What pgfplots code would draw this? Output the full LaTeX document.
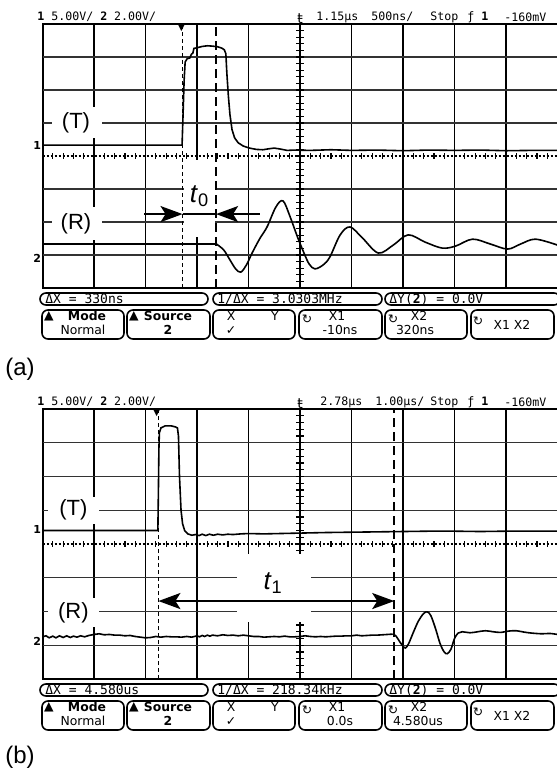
\documentclass[border=0pt]{standalone}
\usepackage{pgfplots}
\pgfplotsset{compat=1.18}
\usepackage{fontspec}
\setmainfont{Liberation Sans}
\newfontfamily\scopefont{DejaVu Sans Mono}
\newfontfamily\symfont{DejaVu Sans}
\usetikzlibrary{arrows.meta}

\pgfplotsset{
  screen/.style={
    scale only axis, width=257.5pt,
    xmin=-5, xmax=5, ymin=-4, ymax=4,
    xtick=\empty, ytick=\empty,
    axis line style={line width=1pt},
    clip=false,
  },
  trace/.style={black, line width=0.8pt, mark=none},
}
\newcommand{\screengrid}{%
  \pgfplotsinvokeforeach{-4,...,4}{\draw[line width=0.85pt] (axis cs:##1,-4) -- (axis cs:##1,4);}%
  \pgfplotsinvokeforeach{-3,-2,-1,1,2,3}{\draw[line width=0.6pt,black!80] (axis cs:-5,##1) -- (axis cs:5,##1);}%
  \draw[line width=0.6pt, dash pattern=on 1pt off 1pt] (axis cs:-5,0) -- (axis cs:5,0);%
  \pgfplotsinvokeforeach{-4.8,-4.6,...,4.8}{\draw[line width=0.6pt] (axis cs:##1,-0.08) -- (axis cs:##1,0.08);}%
  \pgfplotsinvokeforeach{-3.8,-3.6,...,3.8}{\draw[line width=0.6pt] (axis cs:-0.07,##1) -- (axis cs:0.07,##1);}%
}
\tikzset{
  dimarrow/.style={line width=1.2pt, -{Stealth[length=11pt,width=8pt,inset=2.5pt]}},
  key/.style={line width=0.8pt, rounded corners=3pt},
  keytxt/.style={font=\scopefont\fontsize{6.5}{7}\selectfont, inner sep=0pt},
  softtxt/.style={font=\symfont\fontsize{6.2}{7}\selectfont, inner sep=0pt},
  hdr/.style={font=\scopefont\fontsize{5.8}{6}\selectfont, inner sep=0pt, anchor=west},
  lab/.style={font=\fontsize{11}{12}\selectfont, fill=white, inner sep=1pt},
  cur1/.style={black, line width=0.8pt, dash pattern=on 2pt off 1.5pt, mark=none},
  cur2/.style={black, line width=1pt, dash pattern=on 4.5pt off 2.5pt, mark=none},
}

\begin{document}
\begin{tikzpicture}[x=0.5pt,y=-0.5pt]
\useasboundingbox (0,0) rectangle (557,773);

% ---------------- panel (a) ----------------
\begin{axis}[screen, height=132pt, at={(21.25pt,-12pt)}, anchor=north west]
\screengrid
\fill[white] (axis cs:-4.82,0.55) rectangle (axis cs:-3.85,1.5);
\fill[white] (axis cs:-4.82,-1.55) rectangle (axis cs:-3.85,-2.55);
\fill[white] (axis cs:-2.26,-0.12) rectangle (axis cs:-1.65,-2.45);
% cursors
\addplot[cur1] coordinates {(-2.28,-4) (-2.28,4)};
\addplot[cur2] coordinates {(-1.63,-4) (-1.63,4)};
% channel 1 (T)
\addplot[trace] coordinates {
(-5,0.33) (-2.29,0.33) (-2.27,1.3) (-2.25,2.3) (-2.23,2.85) (-2.19,2.95) (-2.14,2.97)
(-2.11,3.08) (-2.08,3.12) (-2.06,3.26) (-2.0,3.28) (-1.9,3.32) (-1.8,3.34) (-1.7,3.33)
(-1.6,3.31) (-1.52,3.27) (-1.47,3.22) (-1.44,3.1) (-1.42,2.5) (-1.39,1.8) (-1.36,1.25)
(-1.32,0.8) (-1.27,0.55) (-1.20,0.40) (-1.10,0.30) (-0.98,0.24) (-0.85,0.20) (-0.72,0.19)
(-0.60,0.22) (-0.50,0.24) (-0.38,0.21) (-0.25,0.17) (-0.10,0.18) (0.2,0.17) (0.6,0.19)
(1.0,0.17) (1.5,0.18) (2.0,0.16) (2.5,0.18) (3.0,0.17) (3.5,0.18) (4.0,0.16) (4.5,0.17) (5,0.17)};
% channel 2 (R)
\addplot[trace] coordinates {(-5,-2.67) (-1.62,-2.67)};
\addplot[trace, smooth, tension=0.55] coordinates {
(-1.62,-2.67) (-1.48,-2.85) (-1.36,-3.15) (-1.25,-3.42) (-1.15,-3.52) (-1.04,-3.30)
(-0.93,-2.94) (-0.78,-2.50) (-0.64,-2.15) (-0.47,-1.55) (-0.33,-1.36) (-0.19,-1.85)
(-0.05,-2.45) (0.08,-2.95) (0.18,-3.28) (0.29,-3.42) (0.45,-3.30) (0.58,-3.06)
(0.78,-2.39) (0.97,-2.15) (1.21,-2.48) (1.52,-2.94) (1.81,-2.70) (2.10,-2.39)
(2.43,-2.61) (2.76,-2.79) (3.02,-2.73) (3.35,-2.52) (3.70,-2.67) (4.03,-2.82)
(4.28,-2.67) (4.57,-2.52) (5.0,-2.70)};
% arrows
\draw[dimarrow] (axis cs:-3.02,-1.76) -- (axis cs:-2.28,-1.76);
\draw[dimarrow] (axis cs:-0.78,-1.76) -- (axis cs:-1.63,-1.76);
\draw[line width=0.8pt] (axis cs:-2.28,-1.76) -- (axis cs:-1.63,-1.76);
\node[font=\fontsize{13}{14}\selectfont, inner sep=0pt] at (axis cs:-1.95,-1.22) {\textit{t}\textsubscript{0}};
\node[lab] at (axis cs:-4.35,1) {(T)};
\node[lab] at (axis cs:-4.35,-2.05) {(R)};
% markers
\node[font=\symfont\bfseries\fontsize{5.5}{5.5}\selectfont, anchor=east, inner sep=0.5pt] at (axis cs:-5,0.33) {1};
\node[font=\symfont\bfseries\fontsize{5.5}{5.5}\selectfont, anchor=east, inner sep=0.5pt] at (axis cs:-5,-3.1) {2};
\node[font=\symfont\fontsize{5}{5}\selectfont, anchor=north, inner sep=0pt] at (axis cs:-2.3,4) {▼};
\end{axis}

% header (a)
\node[hdr] at (37,17) {\textbf{1} 5.00V/ \textbf{2} 2.00V/};
\node[font=\symfont\fontsize{7}{7}\selectfont, inner sep=0pt] at (300,19) {ŧ};
\node[hdr] at (316,17) {1.15µs};
\node[hdr] at (371,17) {500ns/};
\node[hdr] at (430,17) {Stop};
\node[hdr] at (467,17) {ƒ \textbf{1}};
\node[hdr] at (504,17) {-160mV};

% softkeys (a)
\draw[key] (40,293) rectangle (208,305);
\draw[key] (213,293) rectangle (382,305);
\draw[key] (385,293) rectangle (560,305);
\node[keytxt, anchor=west] at (45,299) {ΔX = 330ns};
\node[keytxt, anchor=west] at (217,299) {1/ΔX = 3.0303MHz};
\node[keytxt, anchor=west] at (389,299) {ΔY(\textbf{2}) = 0.0V};
\foreach \a/\b in {42/124,127/210,213/295,299/382,385/467,471/554}{\draw[key] (\a,310) rectangle (\b,339);}
\node[softtxt] at (49,316) {▲};
\node[softtxt] at (87,316) {\bfseries Mode};
\node[softtxt] at (83,330) {Normal};
\node[softtxt] at (134,316) {▲};
\node[softtxt] at (168,316) {\bfseries Source};
\node[softtxt] at (168,330) {\bfseries 2};
\node[softtxt] at (231,316) {X};
\node[softtxt] at (275,316) {Y};
\node[softtxt] at (231,331) {✓};
\node[softtxt] at (307,319) {↻};
\node[softtxt] at (337,316) {X1};
\node[softtxt] at (340,330) {-10ns};
\node[softtxt] at (393,319) {↻};
\node[softtxt] at (419,316) {X2};
\node[softtxt] at (415,330) {320ns};
\node[softtxt] at (478,321) {↻};
\node[softtxt] at (512,325) {X1 X2};

\node[anchor=west, font=\fontsize{12}{14}\selectfont, inner sep=0pt] at (5,369) {(a)};

% ---------------- panel (b) ----------------
\begin{axis}[screen, height=135pt, at={(21.25pt,-204.5pt)}, anchor=north west]
\screengrid
\fill[white] (axis cs:-4.9,0.6) rectangle (axis cs:-3.9,1.4);
\fill[white] (axis cs:-4.9,-1.6) rectangle (axis cs:-3.9,-2.45);
\fill[white] (axis cs:-1.22,-0.3) rectangle (axis cs:0.21,-2.3);
\addplot[cur1] coordinates {(-2.75,-4) (-2.75,4)};
\addplot[cur2] coordinates {(1.83,-4) (1.83,4)};
% channel 1 (T)
\addplot[trace] coordinates {
(-5,0.40) (-2.76,0.40) (-2.75,1.5) (-2.74,2.8) (-2.73,3.3) (-2.70,3.44) (-2.62,3.50)
(-2.50,3.50) (-2.42,3.47) (-2.38,3.44) (-2.36,3.2) (-2.34,2.0) (-2.31,1.0) (-2.28,0.6)
(-2.24,0.40) (-2.18,0.30) (-2.10,0.26) (-2.03,0.28) (-1.96,0.25) (-1.90,0.29) (-1.83,0.25)
(-1.76,0.29) (-1.68,0.26) (-1.60,0.29) (-1.50,0.27) (-1.40,0.29) (-1.30,0.28) (-1.15,0.30)
(-1.0,0.31) (-0.7,0.30) (-0.4,0.31) (-0.1,0.32) (0.2,0.33) (0.5,0.34) (1.0,0.35)
(1.5,0.36) (2.0,0.37) (2.5,0.38) (3.0,0.38) (3.5,0.37) (4.0,0.38) (4.5,0.38) (5.0,0.38)};
% channel 2 (R)
\addplot[trace] coordinates {
(-5.0,-2.75) (-4.93,-2.72) (-4.87,-2.78) (-4.80,-2.73) (-4.74,-2.78) (-4.67,-2.72)
(-4.60,-2.77) (-4.53,-2.72) (-4.46,-2.77) (-4.40,-2.73) (-4.33,-2.76) (-4.26,-2.72)
(-4.18,-2.75) (-4.10,-2.71) (-4.0,-2.68) (-3.9,-2.66) (-3.8,-2.69) (-3.7,-2.68)
(-3.6,-2.70) (-3.5,-2.70) (-3.4,-2.72) (-3.3,-2.71) (-3.2,-2.74) (-3.1,-2.76)
(-3.0,-2.78) (-2.9,-2.77) (-2.8,-2.74) (-2.7,-2.76) (-2.6,-2.74) (-2.5,-2.75)
(-2.4,-2.75) (-2.3,-2.76) (-2.2,-2.74) (-2.1,-2.76) (-2.0,-2.72) (-1.95,-2.75)
(-1.9,-2.71) (-1.85,-2.74) (-1.8,-2.70) (-1.75,-2.73) (-1.7,-2.70) (-1.6,-2.72)
(-1.5,-2.69) (-1.4,-2.71) (-1.3,-2.70) (-1.2,-2.72) (-1.1,-2.70) (-1.0,-2.72)
(-0.9,-2.74) (-0.8,-2.74) (-0.7,-2.76) (-0.6,-2.75) (-0.5,-2.74) (-0.4,-2.75)
(-0.3,-2.73) (-0.2,-2.75) (-0.1,-2.75) (0,-2.74) (0.1,-2.72) (0.2,-2.74) (0.3,-2.75)
(0.4,-2.74) (0.5,-2.75) (0.6,-2.74) (0.7,-2.73) (0.8,-2.73) (0.9,-2.72) (1.0,-2.72)
(1.1,-2.70) (1.2,-2.72) (1.3,-2.71) (1.4,-2.70) (1.5,-2.70) (1.6,-2.69) (1.7,-2.68) (1.8,-2.67)};
\addplot[trace, smooth, tension=0.55] coordinates {
(1.8,-2.67) (1.86,-2.72) (1.93,-2.88) (2.0,-3.03) (2.05,-3.08) (2.11,-2.95) (2.2,-2.62)
(2.3,-2.28) (2.4,-2.06) (2.47,-2.01) (2.54,-2.12) (2.63,-2.5) (2.72,-2.95) (2.8,-3.2)
(2.86,-3.25) (2.93,-3.12) (3.0,-2.8) (3.07,-2.64) (3.15,-2.6) (3.3,-2.63) (3.45,-2.6)
(3.6,-2.57) (3.75,-2.6) (3.9,-2.62) (4.05,-2.58) (4.2,-2.57) (4.35,-2.61) (4.5,-2.64)
(4.7,-2.66) (4.85,-2.65) (5.0,-2.68)};
% arrow
\draw[line width=1.2pt, {Stealth[length=11pt,width=8pt,inset=2.5pt]}-{Stealth[length=11pt,width=8pt,inset=2.5pt]}] (axis cs:-2.75,-1.69) -- (axis cs:1.83,-1.69);
\node[font=\fontsize{13}{14}\selectfont, inner sep=0pt] at (axis cs:-0.52,-1.15) {\textit{t}\textsubscript{1}};
\node[lab] at (axis cs:-4.4,1) {(T)};
\node[lab] at (axis cs:-4.4,-2.05) {(R)};
\node[font=\symfont\bfseries\fontsize{5.5}{5.5}\selectfont, anchor=east, inner sep=0.5pt] at (axis cs:-5,0.42) {1};
\node[font=\symfont\bfseries\fontsize{5.5}{5.5}\selectfont, anchor=east, inner sep=0.5pt] at (axis cs:-5,-2.9) {2};
\node[font=\symfont\fontsize{5}{5}\selectfont, anchor=north, inner sep=0pt] at (axis cs:-2.78,4) {▼};
\end{axis}

% header (b)
\node[hdr] at (37,402) {\textbf{1} 5.00V/ \textbf{2} 2.00V/};
\node[font=\symfont\fontsize{7}{7}\selectfont, inner sep=0pt] at (300,404) {ŧ};
\node[hdr] at (320,402) {2.78µs};
\node[hdr] at (375,402) {1.00µs/};
\node[hdr] at (430,402) {Stop};
\node[hdr] at (467,402) {ƒ \textbf{1}};
\node[hdr] at (504,402) {-160mV};

% softkeys (b)
\draw[key] (40,684) rectangle (208,696);
\draw[key] (213,684) rectangle (382,696);
\draw[key] (385,684) rectangle (560,696);
\node[keytxt, anchor=west] at (45,690) {ΔX = 4.580us};
\node[keytxt, anchor=west] at (217,690) {1/ΔX = 218.34kHz};
\node[keytxt, anchor=west] at (389,690) {ΔY(\textbf{2}) = 0.0V};
\foreach \a/\b in {42/124,127/210,213/295,299/382,385/467,471/554}{\draw[key] (\a,701) rectangle (\b,730);}
\node[softtxt] at (49,707) {▲};
\node[softtxt] at (87,707) {\bfseries Mode};
\node[softtxt] at (83,721) {Normal};
\node[softtxt] at (134,707) {▲};
\node[softtxt] at (168,707) {\bfseries Source};
\node[softtxt] at (168,721) {\bfseries 2};
\node[softtxt] at (231,707) {X};
\node[softtxt] at (275,707) {Y};
\node[softtxt] at (231,722) {✓};
\node[softtxt] at (307,710) {↻};
\node[softtxt] at (337,707) {X1};
\node[softtxt] at (340,721) {0.0s};
\node[softtxt] at (393,710) {↻};
\node[softtxt] at (419,707) {X2};
\node[softtxt] at (418,721) {4.580us};
\node[softtxt] at (478,712) {↻};
\node[softtxt] at (512,716) {X1 X2};

\node[anchor=west, font=\fontsize{12}{14}\selectfont, inner sep=0pt] at (5,757) {(b)};
\end{tikzpicture}
\end{document}
